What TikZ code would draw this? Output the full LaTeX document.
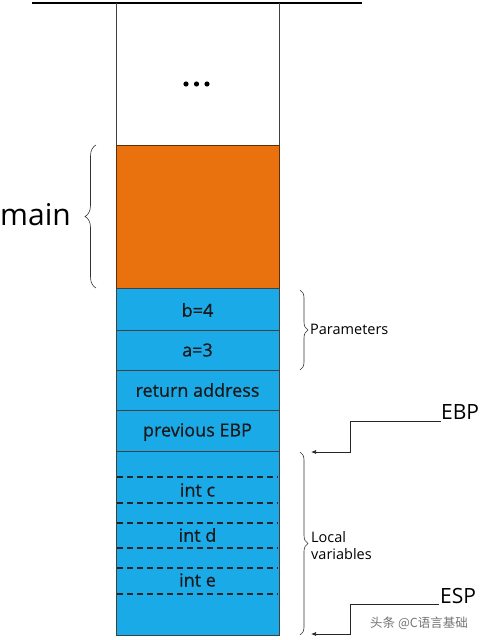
\documentclass[tikz,border=0pt]{standalone}
\usepackage{fontspec}
\setmainfont{Open Sans}
\newfontfamily\heavy[FakeBold=0.7]{Open Sans}
\newfontfamily\cjk{Noto Sans CJK SC}
\usetikzlibrary{decorations.pathreplacing,arrows.meta}
\definecolor{stackblue}{RGB}{27,170,232}
\definecolor{stackorange}{RGB}{234,114,14}
\tikzset{
  cell/.style={draw=black!75,line width=0.8pt,fill=stackblue},
  celltext/.style={font=\heavy\fontsize{18}{21}\selectfont,text=black!90},
  dsh/.style={dashed,line width=1.2pt,black!85,dash pattern=on 6pt off 4pt},
  brc/.style={decorate,decoration={brace,amplitude=#1},line width=0.6pt,black!80},
  ptr/.style={line width=0.7pt,black!85,-{Latex[length=5pt,width=4pt]}},
  lbl/.style={font=\fontsize{14.5}{17}\selectfont,anchor=west,align=left,inner sep=0pt},
  reg/.style={font=\fontsize{21}{24}\selectfont,anchor=west,inner sep=0pt}
}
\begin{document}
\begin{tikzpicture}[x=1pt,y=-1pt]
\useasboundingbox (0,0) rectangle (480,640);
% top line
\draw[line width=2.5pt] (32,3) -- (362,3);
% white top cell
\draw[black!75,line width=0.8pt] (116,3) -- (116,145) (279,3) -- (279,145);
\node[minimum width=30pt,minimum height=10pt] (dots) at (196.5,84) {};
\foreach \x in {186,196.5,207} \fill (\x,84) circle (2.6pt);
% orange
\draw[draw=black!60!stackorange,line width=0.8pt,fill=stackorange] (116,145) rectangle (279,288);
% blue cells
\draw[cell] (116,288) rectangle (279,330);
\draw[cell] (116,330) rectangle (279,370);
\draw[cell] (116,370) rectangle (279,410);
\draw[cell] (116,410) rectangle (279,451);
\draw[cell] (116,451) rectangle (279,635);
\node[celltext] (b) at (197.5,310) {b=4};
\node[celltext] (a) at (197.5,350) {a=3};
\node[celltext] (ret) at (197.5,390) {return address};
\node[celltext] (ebpcell) at (197.5,432) {previous EBP};
\foreach \y in {477,503,523,548,568,594}
  \draw[dsh] (117,\y) -- (278,\y);
\node[celltext] (c) at (197.5,490) {int c};
\node[celltext] (d) at (197.5,535) {int d};
\node[celltext] (e) at (197.5,580) {int e};
% braces
\draw[brc=11pt] (96,288) -- (96,145);
\node[anchor=east,inner sep=0pt,font=\fontsize{30}{34}\selectfont] (main) at (71,215) {main};
\draw[brc=8pt] (300,290) -- (300,370);
\node[lbl] (par) at (310,329) {Parameters};
\draw[brc=8pt] (300,452) -- (300,635);
\node[lbl,align=left] (loc) at (311,546) {Local\\variables};
% pointers
\coordinate (ebpend) at (311,452);
\coordinate (espend) at (311,634);
\node[reg] (EBP) at (441,412) {EBP};
\node[reg] (ESP) at (440,596) {ESP};
\draw[ptr] (441,421) -- (350,421) -- (350,452) -- (ebpend);
\draw[ptr] (439,604) -- (350,604) -- (350,634) -- (espend);
% watermark
\node[anchor=west,inner sep=0pt,text=black!55,font=\cjk\fontsize{12.5}{14}\selectfont] (wm) at (370,623) {头条 @C语言基础};
\end{tikzpicture}
\end{document}
